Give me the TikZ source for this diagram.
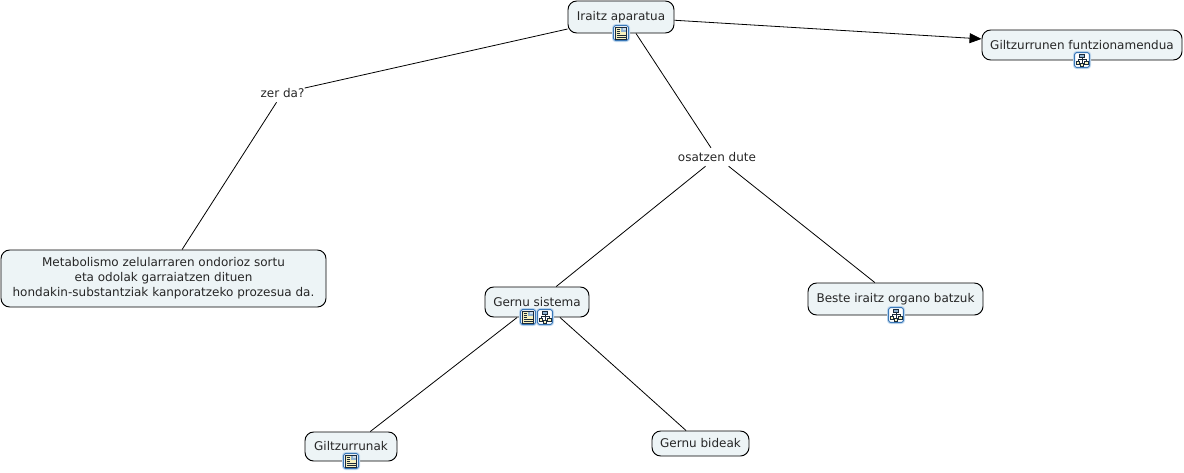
\documentclass[tikz,border=0pt]{standalone}
\usepackage{fontspec}
\setmainfont{DejaVu Sans}
\usetikzlibrary{arrows.meta}
\definecolor{conceptfill}{HTML}{EDF4F6}
\definecolor{iconblue}{HTML}{3A78B8}
\definecolor{iconhalo}{HTML}{C8DDF0}
\definecolor{pageyellow}{HTML}{F8F2BE}
\definecolor{picblue}{HTML}{8FB2D2}
\definecolor{inkdark}{HTML}{1A2A3A}
\tikzset{
  concept/.style={draw=black,line width=0.7pt,fill=conceptfill,rounded corners=6.5pt,inner sep=0pt,font=\fontsize{9pt}{11.25pt}\selectfont,align=center,text=black!85},
  linklabel/.style={inner sep=0pt,font=\fontsize{9pt}{11.25pt}\selectfont,text=black!85,minimum height=13.5pt},
  linkline/.style={draw=black,line width=0.6pt},
  iconframe/.pic={
    \draw[iconhalo,line width=0.75pt,fill=white,rounded corners=2.2pt] (-8.5,-8.5) rectangle (8.5,8.5);
    \draw[iconblue,line width=0.8pt,fill=white,rounded corners=1.8pt] (-7.5,-7.5) rectangle (7.5,7.5);
  },
  docicon/.pic={
    \pic {iconframe};
    \draw[inkdark,line width=0.4pt,fill=pageyellow] (-5.5,-6) rectangle (5.5,6);
    \fill[picblue] (0.3,-5.4) rectangle (4.9,-0.6);
    \fill[white!55!picblue] (2.4,-5.4) rectangle (4.9,-3);
    \foreach \yy in {-4,-2,0}{\draw[inkdark,line width=0.35pt] (-4.5,\yy) -- (-0.7,\yy);}
    \foreach \yy in {2,4}{\draw[inkdark,line width=0.35pt] (-4.5,\yy) -- (4.5,\yy);}
  },
  treeicon/.pic={
    \pic {iconframe};
    \draw[inkdark,line width=0.35pt,fill=picblue] (-2.4,-6) rectangle (2.4,-2.6);
    \draw[inkdark,line width=0.4pt] (0,-2.6) -- (0,3) (-4,1.2) -- (-4,-0.4) -- (4,-0.4) -- (4,1.2);
    \draw[inkdark,line width=0.35pt,fill=pageyellow] (-6,1.2) rectangle (-2.6,4.6);
    \draw[inkdark,line width=0.35pt,fill=pageyellow] (2.6,1.2) rectangle (6,4.6);
    \draw[inkdark,line width=0.35pt,fill=pageyellow] (-1.5,3) rectangle (1.5,6);
  }
}
\begin{document}
\begin{tikzpicture}[x=0.75pt,y=-0.75pt]
\useasboundingbox (0,0) rectangle (1184,472);
\node[concept,minimum width=79.5pt,minimum height=24pt] (iraitz) at (621,17) {Iraitz aparatua};
\node[concept,minimum width=150pt,minimum height=22.5pt] (funtz) at (1082,45) {Giltzurrunen funtzionamendua};
\node[concept,minimum width=243.75pt,minimum height=42.75pt] (metab) at (163.5,278.5) {Metabolismo zelularraren ondorioz sortu\\eta odolak garraiatzen dituen\\hondakin-substantziak kanporatzeko prozesua da.};
\node[concept,minimum width=78pt,minimum height=22.5pt] (gernu) at (537,302) {Gernu sistema};
\node[concept,minimum width=131.25pt,minimum height=24pt] (beste) at (895.5,299) {Beste iraitz organo batzuk};
\node[concept,minimum width=69pt,minimum height=21.75pt] (giltz) at (351,446.5) {Giltzurrunak};
\node[concept,minimum width=72.75pt,minimum height=18.75pt] (bide) at (700.5,443.5) {Gernu bideak};
\node[linklabel] (zer) at (282.5,93) {zer da?};
\node[linklabel] (osa) at (717,157) {osatzen dute};
\path[linkline] (iraitz) -- (zer);
\path[linkline] (zer) -- (metab);
\path[linkline] ([xshift=11.25pt]iraitz.south) -- (osa);
\path[linkline] (osa) -- (gernu);
\path[linkline] (osa) -- (beste);
\path[linkline] (gernu) -- (giltz);
\path[linkline] ([xshift=17.25pt]gernu.south) -- (bide);
\path[linkline,-{Triangle[length=9pt,width=7.5pt]}] (iraitz) -- (funtz);
\pic at (621,33) {docicon};
\pic at (1082,60) {treeicon};
\pic at (528,317) {docicon};
\pic at (545,317) {treeicon};
\pic at (896,315) {treeicon};
\pic at (351,461) {docicon};
\end{tikzpicture}
\end{document}
